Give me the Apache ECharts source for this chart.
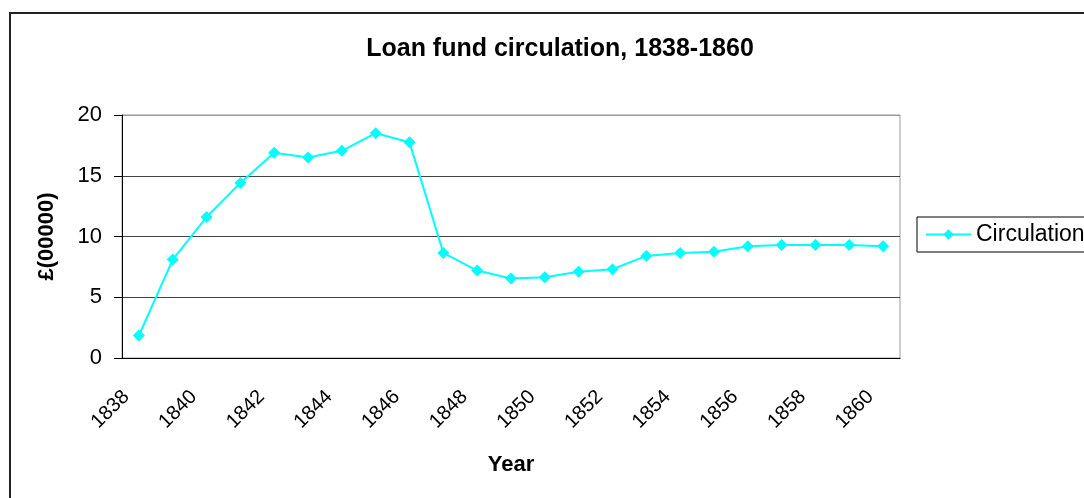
<!DOCTYPE html>
<html>
<head>
<meta charset="utf-8">
<title>Loan fund circulation, 1838-1860</title>
<script src="https://cdn.jsdelivr.net/npm/echarts@6/dist/echarts.min.js"></script>
<style>
  html, body { margin: 0; padding: 0; background: #fff; }
  #main { width: 1084px; height: 498px; }
</style>
</head>
<body>
<div id="main"></div>
<script>
// 年份（横轴类目）
const years = ['1838', '1839', '1840', '1841', '1842', '1843', '1844', '1845', '1846', '1847', '1848', '1849',
  '1850', '1851', '1852', '1853', '1854', '1855', '1856', '1857', '1858', '1859', '1860']
// 流通额，单位 £(00000)
const circulation = [1.85, 8.1, 11.6, 14.4, 16.9, 16.5, 17.05, 18.5, 17.75, 8.65, 7.2, 6.55,
  6.65, 7.1, 7.3, 8.4, 8.65, 8.75, 9.2, 9.3, 9.3, 9.3, 9.2]
// 纵轴刻度
const yTicks = [0, 5, 10, 15, 20]

const font = '"Liberation Sans", Arial, sans-serif'
const chart = echarts.init(document.getElementById('main'), null, { renderer: 'canvas' })

chart.setOption({
  backgroundColor: '#fff',
  animation: false,
  // 外框
  graphic: [{
    type: 'rect',
    shape: { x: 10, y: 13, width: 1200, height: 600 },
    style: { fill: 'none', stroke: '#222', lineWidth: 2 },
    silent: true
  }],
  title: {
    text: 'Loan fund circulation, 1838-1860',
    left: 555,
    top: 32,
    textAlign: 'center',
    textStyle: { fontFamily: font, fontSize: 25, fontWeight: 'bold', color: '#000' }
  },
  legend: {
    left: 917,
    top: 217,
    orient: 'vertical',
    data: ['Circulation'],
    itemWidth: 45,
    itemHeight: 13,
    itemGap: 0,
    padding: [6, 10, 6, 8],
    borderColor: '#000',
    borderWidth: 1,
    borderRadius: 0,
    textStyle: { fontFamily: font, fontSize: 23, color: '#000' }
  },
  grid: {
    left: 122,
    right: 184,
    top: 115,
    bottom: 140,
    show: true,
    borderColor: '#999',
    borderWidth: 1,
    backgroundColor: '#fff'
  },
  xAxis: {
    type: 'category',
    data: years,
    boundaryGap: true,
    name: 'Year',
    nameLocation: 'middle',
    nameGap: 96,
    nameTextStyle: { fontFamily: font, fontSize: 22, fontWeight: 'bold', color: '#000', verticalAlign: 'top' },
    axisLine: { lineStyle: { color: '#000', width: 1 } },
    axisTick: { interval: 0, length: 8, lineStyle: { color: '#000' } },
    axisLabel: {
      interval: 1,
      rotate: 45,
      margin: 23,
      padding: [0, 18, 0, 0],
      fontFamily: font,
      fontSize: 20,
      color: '#000'
    },
    splitLine: { show: false }
  },
  yAxis: {
    type: 'value',
    min: yTicks[0],
    max: yTicks[yTicks.length - 1],
    interval: 5,
    name: '£(00000)',
    nameLocation: 'middle',
    nameGap: 64,
    nameRotate: 90,
    nameTextStyle: { fontFamily: font, fontSize: 22, fontWeight: 'bold', color: '#000' },
    axisLine: { show: true, lineStyle: { color: '#000', width: 1 } },
    axisTick: { show: true, length: 8, lineStyle: { color: '#000' } },
    axisLabel: { margin: 20, fontFamily: font, fontSize: 22, color: '#000' },
    // 最上一条网格线用浅灰，与边框同色
    splitLine: { lineStyle: { color: ['#444', '#444', '#444', '#444', '#999'], width: 1 } }
  },
  series: [{
    name: 'Circulation',
    type: 'line',
    data: circulation,
    symbol: 'diamond',
    symbolSize: 12,
    lineStyle: { color: '#00FFFF', width: 2 },
    itemStyle: { color: '#00FFFF' }
  }]
})
</script>
</body>
</html>
